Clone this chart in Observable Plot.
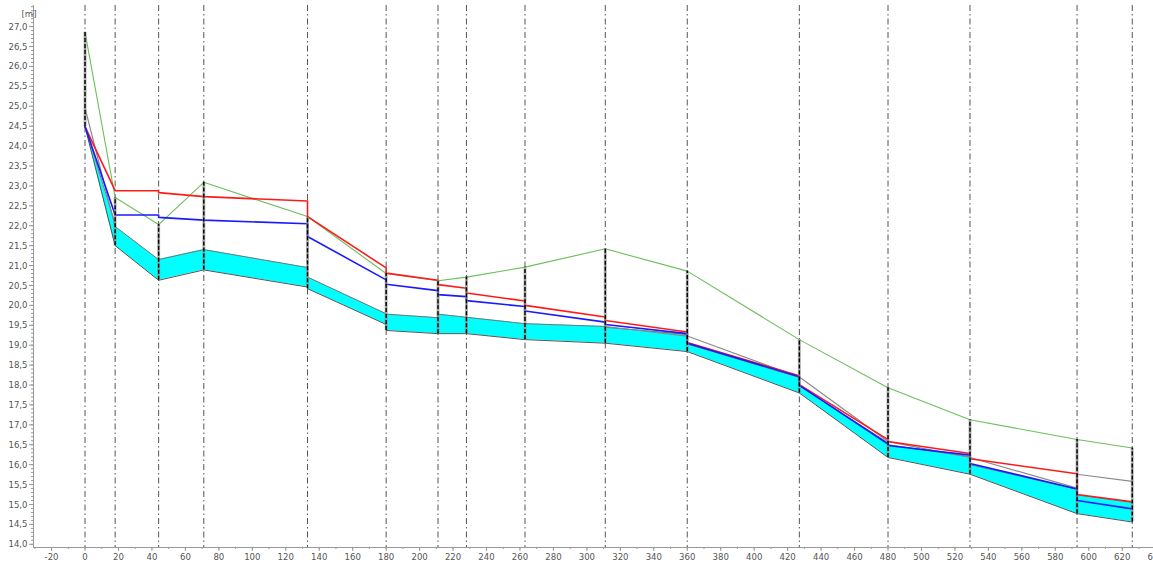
<!DOCTYPE html>
<html><head><meta charset="utf-8">
<script src="https://cdn.jsdelivr.net/npm/d3@7"></script>
<script src="https://cdn.jsdelivr.net/npm/@observablehq/plot@0.6"></script>
<style>body{margin:0;background:#fff} svg{display:block}</style>
</head><body><div id="chart"></div>
<script>
// Cross-section stations [m]
const stations = [0, 18, 44, 71, 133, 180, 211, 228, 263, 311, 360, 427, 480, 529, 593, 626];
// Bank / terrain line (green)
const greenY = [26.86, 22.71, 22.03, 23.09, 22.23, 20.80, 20.62, 20.71, 20.96, 21.42, 20.86, 19.14, 17.93, 17.13, 16.63, 16.42];
// Section bottoms
const sectionBottom = [24.49, 21.50, 20.63, 20.89, 20.42, 19.37, 19.29, 19.29, 19.14, 19.05, 18.84, 17.80, 16.18, 15.76, 14.77, 14.56];

// Water surface lines (with jumps at sections)
const wsX = [0, 18, 44, 44, 71, 133, 133, 180, 180, 211, 211, 228, 228, 263, 263, 311, 311, 360, 360, 427, 427, 480, 480, 529, 529, 593, 593, 626];
const redY = [24.49, 22.88, 22.88, 22.83, 22.73, 22.62, 22.23, 20.94, 20.81, 20.63, 20.52, 20.43, 20.31, 20.11, 20.00, 19.71, 19.62, 19.33, 19.07, 18.23, 18.01, 16.63, 16.58, 16.28, 16.15, 15.77, 15.25, 15.07];
const blueY = [24.49, 22.27, 22.27, 22.21, 22.14, 22.05, 21.73, 20.64, 20.53, 20.37, 20.27, 20.22, 20.12, 19.97, 19.86, 19.58, 19.52, 19.29, 19.05, 18.21, 17.99, 16.52, 16.48, 16.24, 16.03, 15.39, 15.10, 14.89];

// Gray line
const grayX = [0, 18, 44, 71, 133, 180, 211, 228, 263, 311, 360, 427, 480, 529, 593, 593, 626];
const grayY = [24.96, 21.98, null, null, null, null, null, null, null, 19.47, 19.23, 18.20, 16.58, 16.18, 15.41, 15.76, 15.58];

// Cyan band (top / bottom)
const bandX =   [0, 18, 18, 44, 71, 133, 133, 180, 180, 211, 211, 228, 263, 311, 311, 360, 360, 427, 427, 480, 480, 529, 529, 593, 593, 626];
const bandTop = [24.49, 22.05, 21.98, 21.15, 21.40, 20.95, 20.71, 19.79, 19.78, 19.69, 19.78, 19.70, 19.54, 19.47, 19.45, 19.27, 19.03, 18.19, 17.98, 16.55, 16.50, 16.20, 16.00, 15.38, 15.24, 15.05];
const bandBot = [24.49, 21.50, 21.50, 20.63, 20.89, 20.46, 20.42, 19.52, 19.37, 19.29, 19.29, 19.29, 19.14, 19.05, 19.05, 18.84, 18.84, 17.80, 17.80, 16.18, 16.18, 15.76, 15.76, 14.77, 14.77, 14.56];

// Axis ticks
const xMajor = d3.range(-20, 641, 20);
const xMinor = d3.range(-30, 641, 10);
const yMajor = d3.range(28, 55).map(i => i / 2);
const yMinor = d3.range(140, 276).map(i => i / 10);
const xDomain = [-30.8, 638.7];
const yDomain = [13.92, 27.53];

const fmt = d => d.toFixed(1).replace(".", ",");
const band = bandX.map((x, i) => ({x, top: bandTop[i], bot: bandBot[i]}));
const red = wsX.map((x, i) => ({x, y: redY[i]}));
const blue = wsX.map((x, i) => ({x, y: blueY[i]}));
const gray = grayX.map((x, i) => ({x, y: grayY[i]}));
const green = stations.map((x, i) => ({x, y: greenY[i]}));
const sections = stations.map((x, i) => ({x, y1: sectionBottom[i], y2: greenY[i]}));

const chart = Plot.plot({
  width: 1153, height: 564,
  marginLeft: 33, marginRight: 0, marginTop: 5, marginBottom: 17,
  x: {domain: xDomain},
  y: {domain: yDomain},
  style: {fontFamily: "'Liberation Sans Narrow','DejaVu Sans Condensed','Liberation Sans',sans-serif", fontSize: "9.5px", color: "#555", background: "#fff"},
  marks: [
    Plot.ruleX(stations, {stroke: "#555", strokeWidth: 1, strokeDasharray: "6,3,1.5,3"}),
    Plot.areaY(band, {x: "x", y1: "bot", y2: "top", fill: "#00ffff"}),
    Plot.line(band, {x: "x", y: "top", stroke: "#777", strokeWidth: 1}),
    Plot.line(band, {x: "x", y: "bot", stroke: "#555", strokeWidth: 1}),
    Plot.line(gray, {x: "x", y: "y", stroke: "#8a8a8a", strokeWidth: 1.2}),
    Plot.line(green, {x: "x", y: "y", stroke: "#6cbf5c", strokeWidth: 1.1}),
    Plot.line(red, {x: "x", y: "y", stroke: "#ff1a1a", strokeWidth: 1.6}),
    Plot.line(blue, {x: "x", y: "y", stroke: "#1a1aff", strokeWidth: 1.6}),
    Plot.ruleX(sections, {x: "x", y1: "y1", y2: "y2", stroke: "#888", strokeWidth: 3, strokeOpacity: 0.6}),
    Plot.ruleX(sections, {x: "x", y1: "y1", y2: "y2", stroke: "#000", strokeWidth: 1.4, strokeDasharray: "4,2"}),
    Plot.ruleX([xDomain[0]], {stroke: "#999"}),
    Plot.ruleY([yDomain[0]], {stroke: "#999"}),
    Plot.axisY(yMinor, {tickSize: 2, tickFormat: () => "", label: null, stroke: "#999"}),
    Plot.axisY(yMajor, {tickSize: 4, tickPadding: 2, tickFormat: fmt, label: null, stroke: "#999"}),
    Plot.axisX(xMinor, {tickSize: 2, tickFormat: () => "", label: null, stroke: "#999"}),
    Plot.axisX(xMajor, {tickSize: 4, tickPadding: 2, tickFormat: d => String(d), label: null, stroke: "#999"}),
    Plot.text(["[m]"], {frameAnchor: "top-left", dx: -12, dy: 5, fill: "#555"})
  ]
});
document.getElementById("chart").appendChild(chart);
</script>
</body></html>
